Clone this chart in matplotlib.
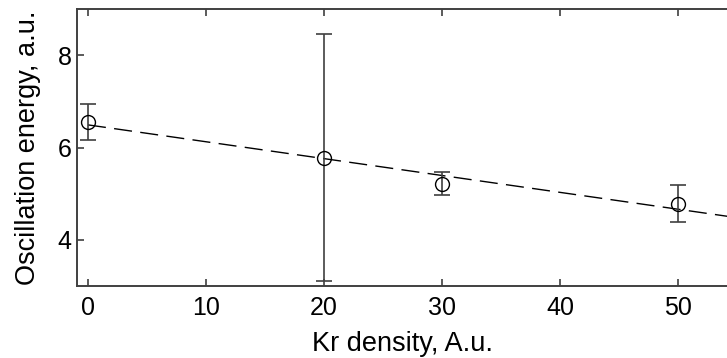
import matplotlib.pyplot as plt

# Measured points (Kr density vs oscillation energy)
kr_density = [0, 20, 30, 50]
energy = [6.55, 5.78, 5.22, 4.78]
energy_err = [0.39, 2.68, 0.24, 0.40]

# Linear fit drawn as dashed line (endpoints)
fit_x = [0, 55]
fit_y = [6.49, 4.48]

xticks = [0, 10, 20, 30, 40, 50]
yticks = [4, 6, 8]

plt.rcParams['font.family'] = ['Liberation Sans', 'DejaVu Sans']
edge = '#404040'

fig = plt.figure(figsize=(7.27, 3.58), dpi=100)
ax = fig.add_axes([77 / 727, 72 / 358, 1 - 77 / 727, 277 / 358])

ax.plot(fit_x, fit_y, color='black', lw=1.0, dashes=(13, 6))
ax.errorbar(kr_density, energy, yerr=energy_err, fmt='none',
            ecolor=edge, elinewidth=1.2, capsize=5.5, capthick=1.2)
ax.plot(kr_density, energy, 'o', ms=10, mfc='none', mec='black', mew=1.0)

ax.set_xlim(-0.93, 54.15)
ax.set_ylim(3, 9)
ax.set_xticks(xticks)
ax.set_yticks(yticks)

for side in ['left', 'bottom', 'top']:
    ax.spines[side].set_color(edge)
    ax.spines[side].set_linewidth(1.4)
ax.spines['right'].set_visible(False)

ax.tick_params(direction='in', length=5, width=1.2, color=edge,
               labelsize=18, top=True, right=False)
ax.tick_params(axis='x', pad=7)
ax.tick_params(axis='y', pad=4)

ax.set_xlabel('Kr density, A.u.', fontsize=19.5, labelpad=8)
ax.set_ylabel('Oscillation energy, a.u.', fontsize=19.5, labelpad=12)

fig.savefig('out.png', dpi=100)
